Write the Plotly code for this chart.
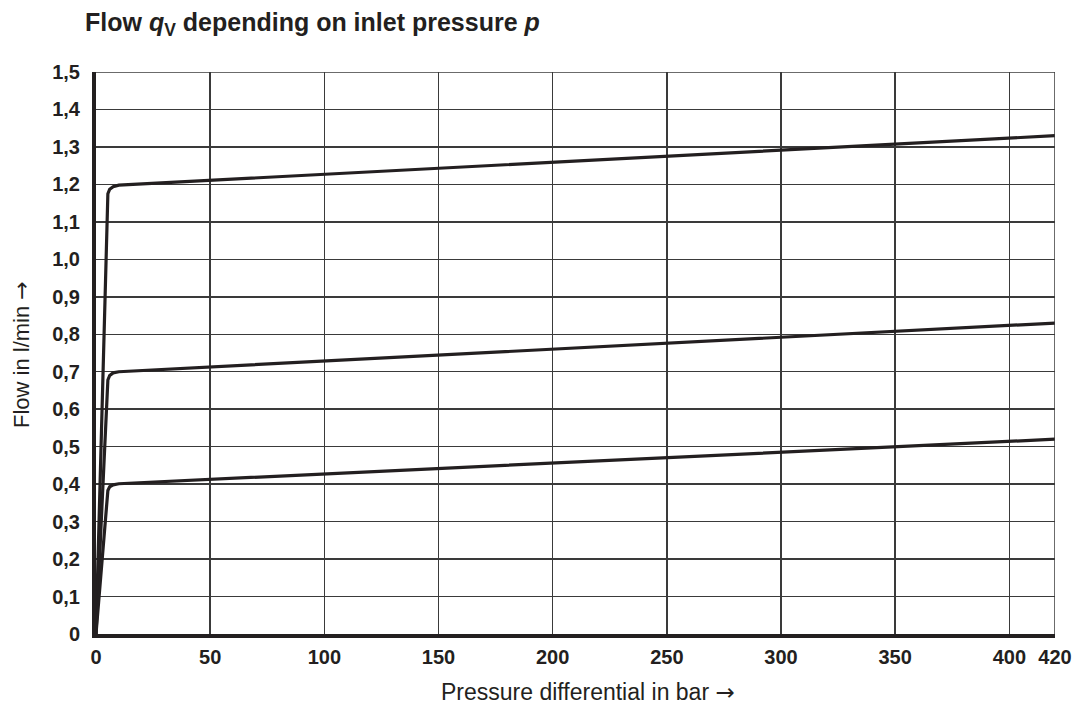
import plotly.graph_objects as go

# Data
pressure = [0, 5.2, 6.0, 7.5, 10.0, 420]
flow_high = [0, 1.175, 1.187, 1.194, 1.198, 1.33]
flow_mid = [0, 0.678, 0.690, 0.697, 0.700, 0.83]
flow_low = [0, 0.383, 0.393, 0.398, 0.401, 0.52]

x_ticks = [0, 50, 100, 150, 200, 250, 300, 350, 400, 420]
y_ticks = [0, 0.1, 0.2, 0.3, 0.4, 0.5, 0.6, 0.7, 0.8, 0.9, 1.0, 1.1, 1.2, 1.3, 1.4, 1.5]
y_labels = ["0", "0,1", "0,2", "0,3", "0,4", "0,5", "0,6", "0,7", "0,8", "0,9",
            "1,0", "1,1", "1,2", "1,3", "1,4", "1,5"]

FONT = "Liberation Sans, Arial, sans-serif"
INK = "#231f20"
GRID = "#3a3a3a"
ARROW = "<span style='font-family:DejaVu Sans'>→</span>"

fig = go.Figure()
for ys in (flow_high, flow_mid, flow_low):
    fig.add_trace(go.Scatter(x=pressure, y=ys, mode="lines",
                             line=dict(color=INK, width=3.2), showlegend=False,
                             cliponaxis=False, hoverinfo="skip"))

fig.update_layout(
    width=1075, height=706,
    margin=dict(l=96, r=20, t=72, b=72, autoexpand=False),
    paper_bgcolor="white", plot_bgcolor="white",
    title=dict(text="<b>Flow <i>q</i><sub>V</sub> depending on inlet pressure <i>p</i></b>",
               x=85 / 1075, xanchor="left", y=1 - 22 / 706, yanchor="middle",
               pad=dict(l=0, r=0, t=0, b=0),
               font=dict(family=FONT, size=25, color=INK)),
    xaxis=dict(range=[0, 420], tickvals=x_ticks, ticktext=[str(v) for v in x_ticks],
               showgrid=True, gridcolor=GRID, gridwidth=1.5,
               showline=True, linecolor=INK, linewidth=4,
               zeroline=False, ticks="", ticklabelstandoff=2, automargin=False,
               tickfont=dict(family=FONT, size=20, color=INK, weight="bold")),
    yaxis=dict(range=[0, 1.5], tickvals=y_ticks, ticktext=y_labels,
               showgrid=True, gridcolor=GRID, gridwidth=1.5,
               showline=True, linecolor=INK, linewidth=4,
               zeroline=False, ticks="", ticklabelstandoff=8, automargin=False,
               tickfont=dict(family=FONT, size=20, color=INK, weight="bold")),
    shapes=[
        dict(type="line", xref="x", yref="y", x0=420, x1=420, y0=0, y1=1.5,
             line=dict(color=GRID, width=1.5)),
        dict(type="line", xref="x", yref="y", x0=0, x1=420, y0=1.5, y1=1.5,
             line=dict(color=GRID, width=1.5)),
    ],
    annotations=[
        dict(text="Pressure differential in bar " + ARROW, xref="paper", yref="paper",
             x=0.5, y=0, xshift=12, yshift=-58, xanchor="center", yanchor="middle",
             showarrow=False, font=dict(family=FONT, size=23, color=INK)),
        dict(text="Flow in l/min " + ARROW, xref="paper", yref="paper",
             x=0, y=0.5, xshift=-75, yshift=-2, xanchor="center", yanchor="middle",
             textangle=-90, showarrow=False, font=dict(family=FONT, size=22, color=INK)),
    ],
)

fig.write_html("out.html",
               config={"displayModeBar": False, "staticPlot": True},
               post_script="document.body.style.margin='0';document.body.style.overflow='hidden';")
